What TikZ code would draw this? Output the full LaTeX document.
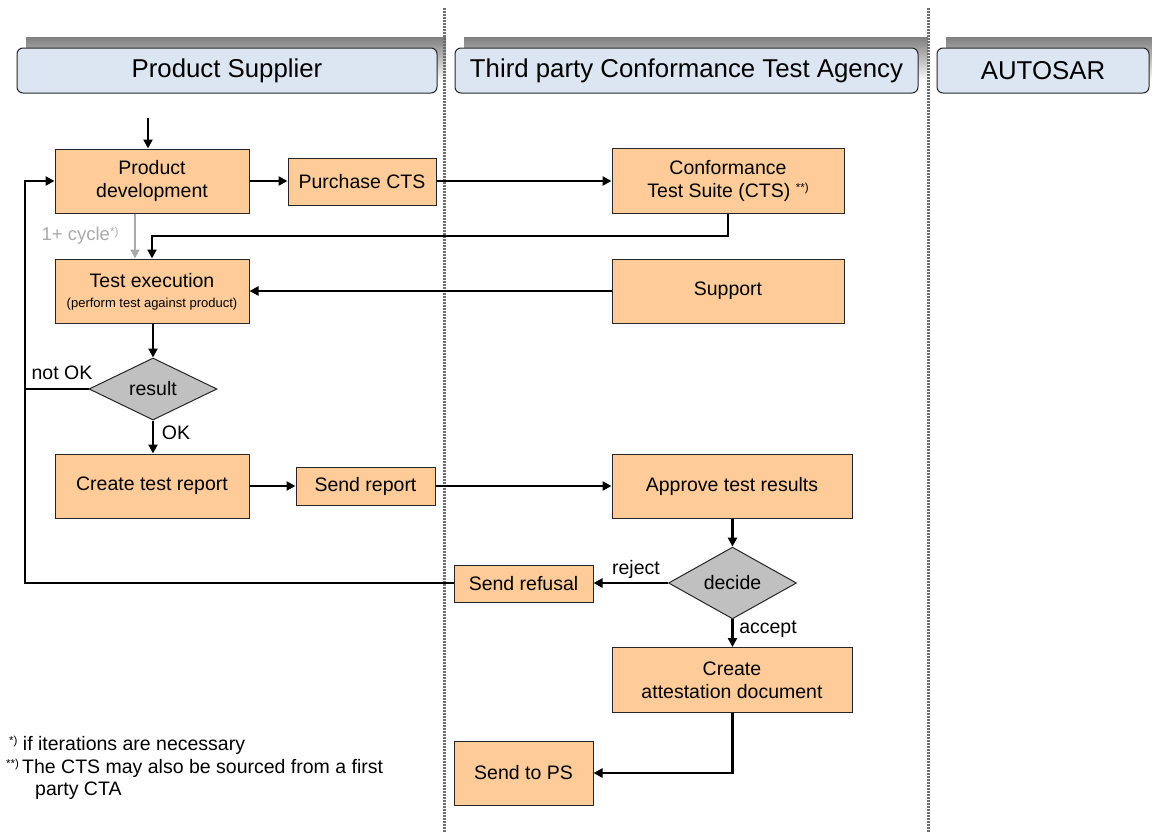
\documentclass[tikz,border=0pt]{standalone}
\usepackage{fontspec}
\setmainfont{Liberation Sans}
\usetikzlibrary{arrows.meta,shapes.geometric}
\definecolor{boxfill}{RGB}{255,204,153}
\definecolor{hdrfill}{RGB}{220,230,242}
\definecolor{shade}{RGB}{128,128,128}
\definecolor{diafill}{RGB}{192,192,192}
\definecolor{sepgray}{RGB}{110,110,110}
\definecolor{cyclegray}{RGB}{170,170,170}
\newcommand{\fnmark}[1]{\raisebox{0.55ex}{\fontsize{11.5}{11.5}\selectfont #1}}
\begin{document}
\begin{tikzpicture}[x=1pt,y=-1pt,
  proc/.style={draw=black!85, fill=boxfill, line width=1pt, align=center, inner sep=0pt, font=\fontsize{19.5}{23}\selectfont},
  hdr/.style={draw=black!85, fill=hdrfill, line width=1pt, rounded corners=6pt, inner sep=0pt, minimum height=45pt, font=\fontsize{25.8}{30}\selectfont},
  dec/.style={draw=black!85, fill=diafill, line width=1pt, diamond, inner sep=0pt, minimum width=128pt, minimum height=54pt, font=\fontsize{19.5}{23}\selectfont},
  arr/.style={line width=2.2pt, -{Triangle[length=9pt,width=9pt]}},
  ln/.style={line width=2.2pt},
  grayarr/.style={line width=2.6pt, cyclegray, -{Triangle[length=9pt,width=9pt]}},
  sep/.style={line width=3pt, sepgray, dash pattern=on 1.8pt off 1.2pt},
  lbl/.style={font=\fontsize{19.5}{23}\selectfont, inner sep=0pt},
  foot/.style={font=\fontsize{19.5}{23}\selectfont, inner sep=0pt, anchor=west}
]
\useasboundingbox (0,0) rectangle (1152,833);
% header shadows
\fill[shade] (26,37) rectangle (446,82);
\fill[shade] (464,37) rectangle (928,82);
\fill[shade] (946,37) rectangle (1152,82);
% separators
\draw[sep] (444.5,8) -- (444.5,833);
\draw[sep] (928,8) -- (928,833);
% headers
\node[hdr, minimum width=420pt] (h1) at (227,70.5) {Product Supplier};
\node[hdr, minimum width=463pt] (h2) at (686.5,70.5) {Third party Conformance Test Agency};
\node[hdr, minimum width=212pt] (h3) at (1043,70.5) {AUTOSAR};
% process boxes
\node[proc, minimum width=194pt, minimum height=64pt] (pd) at (152,181) {Product\\development};
\node[proc, minimum width=148pt, minimum height=47pt] (pc) at (362,181.5) {Purchase CTS};
\node[proc, minimum width=232pt, minimum height=65pt] (cts) at (728,181) {Conformance\\Test Suite (CTS) \fnmark{**)}};
\node[proc, minimum width=194pt, minimum height=64pt] (te) at (152,291) {\\[-8pt]Test execution\\[-3pt]{\fontsize{13}{15}\selectfont (perform test against product)}};
\node[proc, minimum width=232pt, minimum height=64pt] (sup) at (728,291) {Support};
\node[dec] (res) at (153,389) {result};
\node[proc, minimum width=194pt, minimum height=64pt] (ctr) at (152,486) {Create test report};
\node[proc, minimum width=139pt, minimum height=38pt] (srep) at (365.5,486) {Send report};
\node[proc, minimum width=240pt, minimum height=64pt] (atr) at (732,486) {Approve test results};
\node[dec] (dcd) at (732.5,583) {decide};
\node[proc, minimum width=139pt, minimum height=37pt] (sref) at (523.5,583.5) {Send refusal};
\node[proc, minimum width=240pt, minimum height=65pt] (cad) at (732,680) {Create\\attestation document};
\node[proc, minimum width=139pt, minimum height=64pt] (sps) at (523.5,773) {Send to PS};
% helper coordinates
\coordinate (start) at (148,118);
\coordinate (feed) at (152,236);
\coordinate (lb) at (25,583);
\coordinate (lt) at (25,181);
\coordinate (lm) at (25,389);
% connectors
\draw[arr] (start) -- (start |- pd.north);
\draw[arr] (pd.east) -- (pc.west |- pd.east);
\draw[arr] (pc.east |- cts.west) -- (cts.west);
\draw[arr] (cts.south) |- (feed) -- (te.north);
\draw[grayarr] ([xshift=-17pt]pd.south) -- ([xshift=-17pt]te.north);
\node[lbl, text=cyclegray, font=\fontsize{18.5}{22}\selectfont] (cyc) at (80,236) {1+ cycle\fnmark{*)}};
\draw[arr] (sup.west) -- (te.east);
\draw[arr] (te.south -| res.north) -- (res.north);
\draw[ln] (res.west) -- (lm);
\node[lbl] (notok) at (62,373) {not OK};
\draw[arr] (res.south) -- (res.south |- ctr.north);
\node[lbl] (ok) at (176,433) {OK};
\draw[arr] (ctr.east) -- (srep.west);
\draw[arr] (srep.east) -- (atr.west);
\draw[arr] (atr.south -| dcd.north) -- (dcd.north);
\draw[arr] (dcd.west) -- (sref.east |- dcd.west);
\node[lbl] (rej) at (636,569) {reject};
\draw[arr] (sref.west |- lb) -- (lb) -- (lt) -- (pd.west);
\draw[arr] (dcd.south) -- (dcd.south |- cad.north);
\node[lbl] (acc) at (768,629) {accept};
\draw[arr] (cad.south -| dcd.south) |- (sps.east);
% footnotes
\node[foot] (f1) at (9,745) {\fnmark{*)}\ if iterations are necessary};
\node[foot] (f2) at (6,768) {\fnmark{**)}\,The CTS may also be sourced from a first};
\node[foot] (f3) at (35,791) {party CTA};
\end{tikzpicture}
\end{document}
